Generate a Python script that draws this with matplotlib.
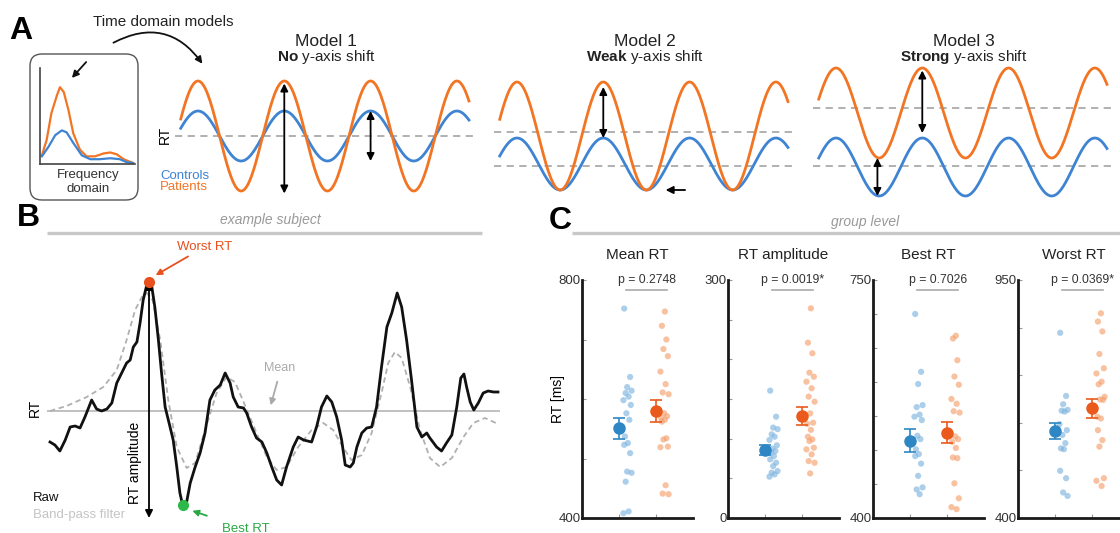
import numpy as np
import matplotlib.pyplot as plt
from matplotlib.patches import FancyBboxPatch

plt.rcParams['font.family'] = ['Liberation Sans', 'DejaVu Sans']
plt.rcParams['mathtext.fontset'] = 'custom'
plt.rcParams['mathtext.rm'] = 'Liberation Sans'
plt.rcParams['mathtext.bf'] = 'Liberation Sans:bold'

# ---------------- data ----------------
# panel A, frequency-domain sketch
freq_x_pat = [0.2, 0.7, 1.2, 1.8, 2.1, 2.5, 3.0, 3.5, 4.2, 4.9, 5.8, 6.7, 7.4, 8.1, 8.8, 9.8]
freq_y_pat = [0.9, 2.5, 5.3, 7.2, 8.0, 7.5, 5.6, 3.2, 1.5, 0.8, 0.8, 1.1, 1.2, 1.0, 0.5, 0.1]
freq_x_ctrl = [0.2, 0.9, 1.6, 2.3, 2.8, 3.5, 4.4, 5.3, 6.3, 7.4, 8.4, 9.1, 9.8]
freq_y_ctrl = [0.8, 1.8, 3.0, 3.5, 3.3, 2.2, 0.9, 0.5, 0.5, 0.6, 0.5, 0.2, 0.1]

# panel A, time-domain models (cycles, arbitrary RT units)
model_names = ['Model 1', 'Model 2', 'Model 3']
shift_words = ['No', 'Weak', 'Strong']
ctrl_amp = [1.0, 1.04, 1.16]
pat_amp = [2.2, 2.16, 1.8]
ctrl_mean = [0.0, -1.12, -1.24]
pat_mean = [0.0, 0.0, 0.92]
ref_levels = [[0.0], [0.16, -1.2], [1.12, -1.2]]

# panel B, example subject (time, RT in ms)
raw_t = [0, 1.1, 2.2, 3.4, 4.5, 5.6, 6.7, 7.8, 9.3, 10.4, 11.5, 12.7, 13.8, 14.9, 16.0, 17.1,
         17.9, 18.6, 19.4, 20.1, 20.8, 21.6, 22.1, 22.7, 23.4, 24.2, 24.9, 25.7, 26.8, 27.5,
         28.3, 29.0, 29.6, 30.5, 31.3, 32.4, 33.5, 34.6, 35.7, 36.8, 38.0, 39.1, 40.2, 40.9,
         42.0, 43.2, 43.9, 45.0, 46.1, 47.3, 48.4, 49.5, 50.6, 51.7, 52.8, 54.3, 55.4, 56.6,
         58.4, 59.5, 60.6, 61.8, 62.9, 64.0, 65.1, 65.9, 67.0, 67.7, 68.5, 69.6, 70.7, 71.8,
         72.9, 74.0, 75.2, 76.3, 77.5, 78.5, 79.6, 80.7, 81.9, 83.0, 84.1, 84.8, 86.3, 87.4,
         88.5, 89.7, 90.8, 91.7, 92.4, 93.0, 93.8, 94.6, 95.6, 96.7, 97.8, 99.0, 100.0]
raw_rt = [469, 466, 460, 471, 484, 485, 483, 494, 511, 502, 500, 502, 508, 528, 538, 548,
          551, 564, 569, 588, 611, 626, 629, 625, 604, 571, 538, 504, 484, 471,
          444, 418, 406, 409, 428, 444, 458, 478, 511, 521, 526, 538, 528, 514,
          504, 503, 498, 484, 473, 469, 458, 444, 431, 426, 444, 464, 474, 471,
          469, 484, 504, 515, 509, 494, 471, 446, 444, 448, 464, 478, 483, 484,
          504, 544, 584, 598, 618, 604, 571, 531, 484, 474, 478, 473, 464, 460,
          468, 476, 504, 533, 537, 524, 509, 501, 508, 518, 520, 519, 519]
filt_t = [0, 3.7, 8.2, 11.9, 14.9, 17.1, 19.0, 20.5, 21.6, 22.9, 24.6, 26.4, 28.3, 30.5,
          32.4, 34.6, 37.2, 39.4, 41.3, 43.5, 46.1, 48.4, 50.6, 52.8, 55.4, 58.4, 61.0,
          63.2, 65.5, 67.3, 69.6, 71.8, 74.0, 75.5, 77.0, 78.5, 80.4, 82.6, 84.8, 87.1,
          89.7, 92.3, 94.5, 97.1, 100.0]
filt_rt = [500, 505, 514, 524, 541, 571, 601, 614, 618, 611, 571, 511, 464, 443,
           448, 481, 518, 534, 529, 506, 478, 454, 441, 444, 464, 481, 488,
           481, 463, 451, 456, 478, 518, 548, 559, 553, 524, 481, 453, 444,
           453, 474, 488, 493, 487]
mean_rt = 500

# panel C, group level
c_titles = ['Mean RT', 'RT amplitude', 'Best RT', 'Worst RT']
c_ylims = [(400, 800), (0, 300), (400, 750), (400, 950)]
c_nticks = [4, 6, 7, 5]
p_labels = ['p = 0.2748', 'p = 0.0019*', 'p = 0.7026', 'p = 0.0369*']
ctrl_means = [551, 85.7, 513.7, 601]
ctrl_sem = [17.5, 6.5, 17.0, 19.3]
pat_means = [580, 128.6, 525.5, 653.5]
pat_sem = [18.0, 11.0, 15.0, 22.4]
ctrl_vals = [
    [752, 637, 620, 614, 610, 604, 598, 590, 576, 565, 537, 526, 523, 509, 478, 476, 461, 411, 408],
    [160.5, 127.7, 114, 112, 105.5, 102.5, 98.4, 91.6, 87.4, 84.5, 82.4, 78.1, 73.9, 69.7, 65.4,
     59.2, 57.1, 55, 52.1],
    [700, 615, 597, 566, 563, 552, 549, 544, 521, 516, 501, 494, 491, 480, 462, 445, 442, 435],
    [828, 682, 663, 650, 648, 646, 617, 603, 592, 573, 561, 559, 509, 492, 459, 451],
]
pat_vals = [
    [747, 723, 700, 684, 672, 646, 625, 611, 608, 576, 571, 568, 565, 562, 534, 532, 520, 519,
     455, 441, 440],
    [264.3, 221, 207.6, 183.2, 178.1, 171.8, 163.5, 153, 146.6, 131.9, 120.1, 118.5, 111.1,
     102.5, 99.1, 97, 88.6, 86.5, 80.2, 71.8, 69.7, 56.2],
    [668, 664, 632, 608, 596, 575, 568, 557, 555, 520, 516, 512, 503, 489, 488, 451, 429, 416, 413],
    [873, 854, 831, 779, 746, 734, 715, 709, 680, 674, 673, 634, 630, 603, 580, 565, 492, 486, 474],
]

# ---------------- style ----------------
ORANGE = '#f27524'
BLUE = '#3f84d2'
M_BLUE = '#2f86c4'
M_ORANGE = '#ea5a1c'
DOT_BLUE = '#7fb5e0'
DOT_ORANGE = '#f5a06e'
JITTER = np.array([0.14, 0.30, 0.22, 0.34, 0.18, 0.26, 0.12, 0.32, 0.20, 0.28, 0.16, 0.24])

W, H = 1120, 533
fig = plt.figure(figsize=(11.2, 5.33), dpi=100)


def box(x0, y0, x1, y1):
    return [x0 / W, 1 - y1 / H, (x1 - x0) / W, (y1 - y0) / H]


# overlay in pixel units for labels / decorations
ov = fig.add_axes([0, 0, 1, 1])
ov.set_xlim(0, W)
ov.set_ylim(H, 0)
ov.axis('off')

for lab, x, y in [('A', 21, 31), ('B', 28, 218), ('C', 560, 221)]:
    ov.text(x, y, lab, fontsize=23, fontweight='bold', ha='center', va='center')

ov.text(163, 22, 'Time domain models', fontsize=11, ha='center', va='center', color='#222')
ov.annotate('', xy=(204, 66), xytext=(111, 44),
            arrowprops=dict(arrowstyle='-|>', connectionstyle='arc3,rad=-0.45',
                            lw=1.3, color='#111', mutation_scale=10))
ov.add_patch(FancyBboxPatch((30, 54), 108, 146, boxstyle='round,pad=0,rounding_size=12',
                            fc='none', ec='#555', lw=1.0))
ov.text(88, 182, 'Frequency\ndomain', fontsize=9.5, ha='center', va='center',
        color='#333', linespacing=1.25)
ov.annotate('', xy=(70, 80), xytext=(88, 60),
            arrowprops=dict(arrowstyle='-|>', lw=1.3, color='#111', mutation_scale=10))

ov.text(165, 135, 'RT', rotation=90, fontsize=10, ha='center', va='center')
ov.text(160, 176, 'Controls', fontsize=9.5, color=BLUE, va='center')
ov.text(160, 187, 'Patients', fontsize=9.5, color=ORANGE, va='center')

ov.plot([47, 482], [233, 233], color='#c8c8c8', lw=2.4, solid_capstyle='butt')
ov.text(270, 220, 'example subject', fontsize=10, style='italic', color='#999',
        ha='center', va='center')
ov.plot([572, 1120], [233, 233], color='#c8c8c8', lw=2.4, solid_capstyle='butt')
ov.text(865, 222, 'group level', fontsize=10, style='italic', color='#999',
        ha='center', va='center')

# frequency inset
axf = fig.add_axes(box(40, 68, 135, 164))
axf.plot(freq_x_pat, freq_y_pat, color=ORANGE, lw=1.6)
axf.plot(freq_x_ctrl, freq_y_ctrl, color=BLUE, lw=1.6)
axf.set_xlim(0, 10)
axf.set_ylim(0, 10)
axf.set_xticks([])
axf.set_yticks([])
for s in ['top', 'right']:
    axf.spines[s].set_visible(False)
for s in ['left', 'bottom']:
    axf.spines[s].set_color('#444')
    axf.spines[s].set_linewidth(1.2)
axf.patch.set_alpha(0)

# model panels
t = np.linspace(-0.2, 3.14, 400)
model_left = [175, 494, 813]
arrow_kw = dict(arrowstyle='<|-|>', color='k', lw=1.3, mutation_scale=11, shrinkA=0, shrinkB=0)
for i in range(3):
    ax = fig.add_axes(box(model_left[i], 60, model_left[i] + 300, 200))
    ax.set_xlim(-0.2665, 3.21)
    ax.set_ylim(-2.56, 3.04)
    ax.axis('off')
    for lvl in ref_levels[i]:
        ax.axhline(lvl, color='#aaaaaa', lw=1.3, ls=(0, (4, 3)), zorder=1)
    ax.plot(t, ctrl_mean[i] + ctrl_amp[i] * np.cos(2 * np.pi * t), color=BLUE, lw=2, zorder=2)
    ax.plot(t, pat_mean[i] + pat_amp[i] * np.cos(2 * np.pi * t), color=ORANGE, lw=2, zorder=3)
    pk_p = pat_mean[i] + pat_amp[i]
    pk_c = ctrl_mean[i] + ctrl_amp[i]
    tr_p = pat_mean[i] - pat_amp[i]
    tr_c = ctrl_mean[i] - ctrl_amp[i]
    if i == 0:
        ax.annotate('', xy=(1, tr_p - 0.1), xytext=(1, pk_p - 0.1), arrowprops=arrow_kw)
        ax.annotate('', xy=(2, tr_c), xytext=(2, pk_c), arrowprops=arrow_kw)
    elif i == 1:
        ax.annotate('', xy=(1, pk_c), xytext=(1, pk_p - 0.2), arrowprops=arrow_kw)
        ax.annotate('', xy=(1.69, tr_c), xytext=(1.98, tr_c),
                    arrowprops=dict(arrowstyle='-|>', color='k', lw=1.3, mutation_scale=11))
    else:
        ax.annotate('', xy=(1, pk_c + 0.2), xytext=(1, pk_p - 0.1), arrowprops=arrow_kw)
        ax.annotate('', xy=(0.48, tr_c), xytext=(0.48, tr_p), arrowprops=arrow_kw)
    cx = model_left[i] + 151
    ov.text(cx, 42, model_names[i], fontsize=12.5, ha='center', va='center', color='#222')
    ov.text(cx, 57, r'$\bf{%s}$ y-axis shift' % shift_words[i], fontsize=11,
            ha='center', va='center', color='#222')

# panel B
axb = fig.add_axes(box(47, 240, 500, 530))
axb.set_xlim(-0.67, 100.45)
axb.set_ylim(381, 671)
axb.axis('off')
axb.axhline(mean_rt, color='#b5b5b5', lw=1.2, zorder=1)
axb.plot(filt_t, filt_rt, color='#b0b0b0', lw=1.3, ls=(0, (3, 2)), zorder=2)
axb.plot(raw_t, raw_rt, color='#111', lw=2, zorder=3)
i_max = int(np.argmax(raw_rt))
i_min = int(np.argmin(raw_rt))
axb.annotate('', xy=(raw_t[i_max], raw_rt[i_min] - 13), xytext=(raw_t[i_max], raw_rt[i_max]),
             arrowprops=dict(arrowstyle='<|-|>', color='k', lw=1.3, mutation_scale=11,
                             shrinkA=0, shrinkB=0), zorder=4)
axb.plot(raw_t[i_max], raw_rt[i_max], 'o', color='#e8501e', ms=7, zorder=5)
axb.plot(raw_t[i_min], raw_rt[i_min], 'o', color='#2db84a', ms=7, zorder=5)
axb.annotate('Worst RT', xy=(raw_t[i_max] + 0.4, raw_rt[i_max] + 4), xytext=(28.3, 664),
             color='#e8501e', fontsize=9.5, va='center',
             arrowprops=dict(arrowstyle='-|>', color='#e8501e', lw=1.3, mutation_scale=9,
                             shrinkA=1, shrinkB=4))
axb.annotate('Best RT', xy=(raw_t[i_min] + 1.0, raw_rt[i_min] - 4), xytext=(38.4, 382),
             color='#2aa845', fontsize=9.5, va='center',
             arrowprops=dict(arrowstyle='-|>', color='#2aa845', lw=1.3, mutation_scale=9,
                             shrinkA=10, shrinkB=4))
axb.text(51.3, 543, 'Mean', color='#aaaaaa', fontsize=9, ha='center', va='center')
axb.annotate('', xy=(49.1, 503), xytext=(50.9, 532),
             arrowprops=dict(arrowstyle='-|>', color='#aaaaaa', lw=1.3, mutation_scale=9))
axb.text(19.0, 448, 'RT amplitude', rotation=90, fontsize=10, ha='center', va='center')
axb.text(-3.35, 503, 'RT', rotation=90, fontsize=10, ha='center', va='center', clip_on=False)
axb.text(-3.8, 413, 'Raw', fontsize=9.5, ha='left', va='center', color='#111', clip_on=False)
axb.text(-3.8, 396, 'Band-pass filter', fontsize=9.5, ha='left', va='center',
         color='#c4c4c4', clip_on=False)

# panel C
c_left = [582, 728, 873, 1018]
for k in range(4):
    ax = fig.add_axes(box(c_left[k], 280, c_left[k] + 111, 518))
    lo, hi = c_ylims[k]
    ax.set_xlim(0, 3)
    ax.set_ylim(lo, hi)
    cv = np.array(ctrl_vals[k])
    pv = np.array(pat_vals[k])
    ax.scatter(1 + np.resize(JITTER, cv.size), cv, s=20, color=DOT_BLUE, alpha=0.65,
               edgecolors='none', zorder=2)
    ax.scatter(2 + np.resize(JITTER[::-1], pv.size), pv, s=20, color=DOT_ORANGE, alpha=0.65,
               edgecolors='none', zorder=2)
    ax.errorbar(1, ctrl_means[k], yerr=ctrl_sem[k], fmt='o', color=M_BLUE, ms=8,
                capsize=4, elinewidth=1.2, capthick=1.2, zorder=3)
    ax.errorbar(2, pat_means[k], yerr=pat_sem[k], fmt='o', color=M_ORANGE, ms=8,
                capsize=4, elinewidth=1.2, capthick=1.2, zorder=3)
    ticks = np.linspace(lo, hi, c_nticks[k] + 1)
    ax.set_yticks(ticks)
    ax.set_yticklabels([f'{int(lo)}'] + [''] * (len(ticks) - 2) + [f'{int(hi)}'])
    ax.set_xticks([1, 2])
    ax.set_xticklabels([])
    ax.tick_params(axis='both', direction='in', length=3, color='#999', labelsize=9.5,
                   labelcolor='#333', pad=1)
    for s in ['top', 'right']:
        ax.spines[s].set_visible(False)
    for s in ['left', 'bottom']:
        ax.spines[s].set_linewidth(2)
        ax.spines[s].set_color('#1a1a1a')
    ax.patch.set_alpha(0)
    ax.set_title(c_titles[k], fontsize=11, pad=15, color='#222')
    ax.text(1.75, hi, p_labels[k], fontsize=8.8, ha='center', va='center', color='#333')
    ax.plot([1.2, 2.3], [hi - (hi - lo) * 0.042] * 2, color='#aaaaaa', lw=1.2)
    if k == 0:
        ax.set_ylabel('RT [ms]', fontsize=10)
        ax.yaxis.set_label_coords(-0.15, 0.5)

fig.savefig('out.png', dpi=100)
